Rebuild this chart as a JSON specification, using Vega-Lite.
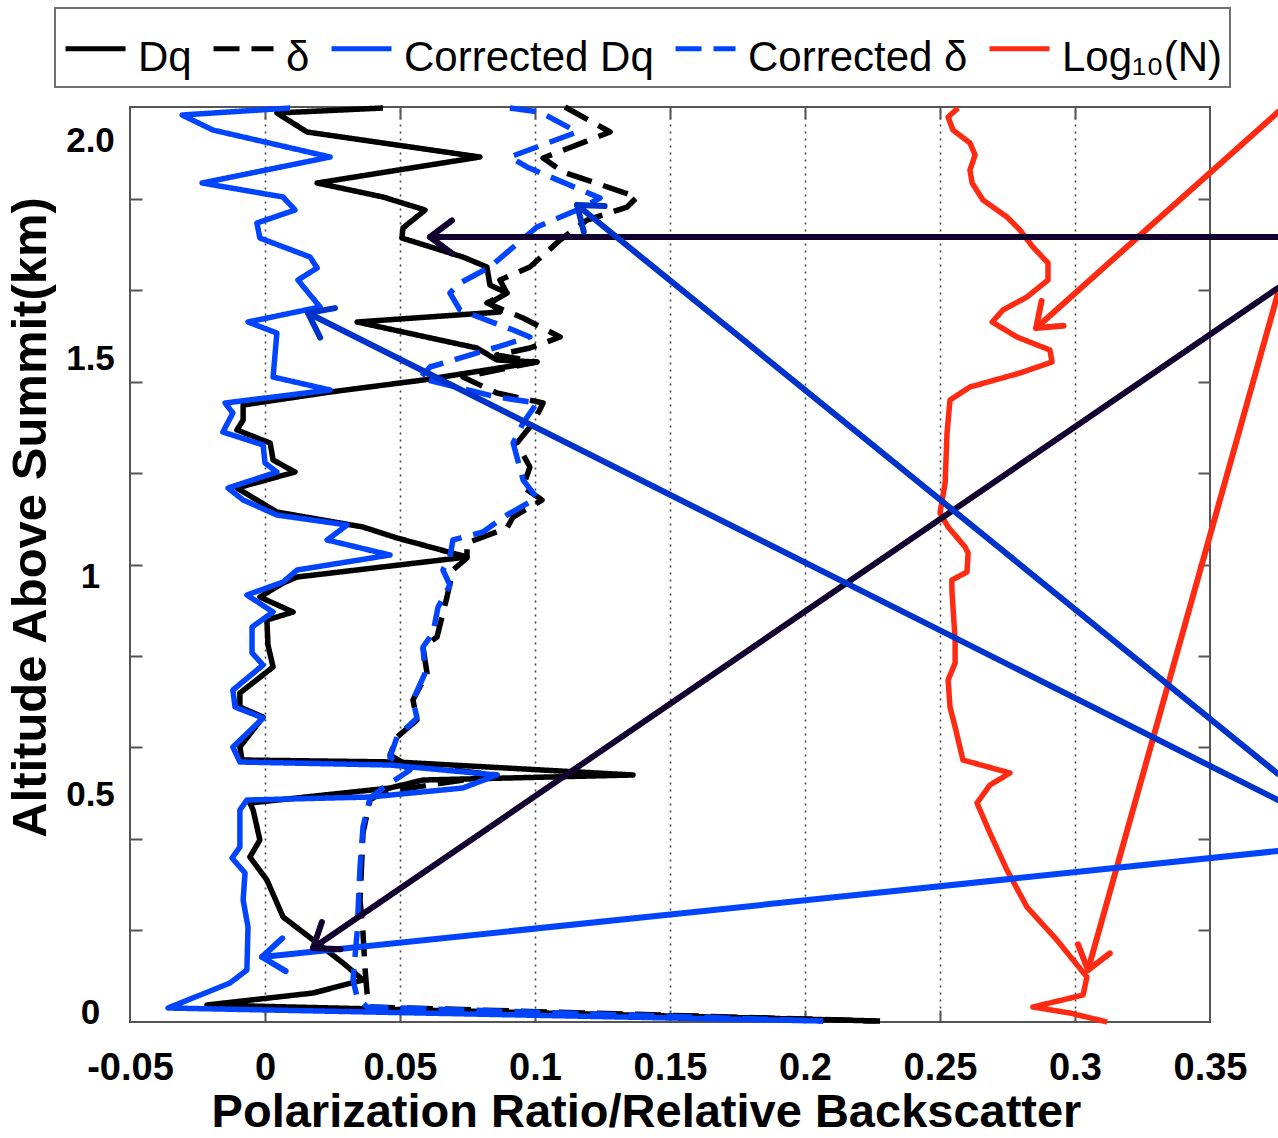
{
  "$schema": "https://vega.github.io/schema/vega-lite/v6.json",
  "width": 1080,
  "height": 915,
  "autosize": {"type": "none"},
  "padding": {"left": 130, "top": 107, "right": 68, "bottom": 116},
  "background": "white",
  "config": {"view": {"stroke": "#555", "strokeWidth": 2}, "font": "Liberation Sans"},
  "datasets": {
    "curves": [
      {"s":"Dq","i":1,"x":0.0437,"y":2.0734},{"s":"Dq","i":2,"x":0.0044,"y":2.0619},{"s":"Dq","i":3,"x":0.0156,"y":2.0183},{"s":"Dq","i":4,"x":0.0796,"y":1.961},{"s":"Dq","i":5,"x":0.0193,"y":1.9014},{"s":"Dq","i":6,"x":0.0437,"y":1.8693},{"s":"Dq","i":7,"x":0.0593,"y":1.8394},{"s":"Dq","i":8,"x":0.0511,"y":1.7982},{"s":"Dq","i":9,"x":0.0507,"y":1.7752},{"s":"Dq","i":10,"x":0.0733,"y":1.7317},{"s":"Dq","i":11,"x":0.0822,"y":1.7087},{"s":"Dq","i":12,"x":0.0833,"y":1.6674},{"s":"Dq","i":13,"x":0.0896,"y":1.6491},{"s":"Dq","i":14,"x":0.0833,"y":1.6261},{"s":"Dq","i":15,"x":0.087,"y":1.6055},{"s":"Dq","i":16,"x":0.0341,"y":1.5826},{"s":"Dq","i":17,"x":0.0785,"y":1.5229},{"s":"Dq","i":18,"x":0.0859,"y":1.4954},{"s":"Dq","i":19,"x":0.1007,"y":1.4908},{"s":"Dq","i":20,"x":0.0585,"y":1.4495},{"s":"Dq","i":21,"x":0.0241,"y":1.422},{"s":"Dq","i":22,"x":-0.0081,"y":1.3922},{"s":"Dq","i":23,"x":-0.0081,"y":1.3578},{"s":"Dq","i":24,"x":-0.0104,"y":1.3349},{"s":"Dq","i":25,"x":0.0019,"y":1.305},{"s":"Dq","i":26,"x":0.003,"y":1.2661},{"s":"Dq","i":27,"x":0.0111,"y":1.2385},{"s":"Dq","i":28,"x":-0.0104,"y":1.2018},{"s":"Dq","i":29,"x":0.0044,"y":1.1468},{"s":"Dq","i":30,"x":0.0363,"y":1.1124},{"s":"Dq","i":31,"x":0.0489,"y":1.0872},{"s":"Dq","i":32,"x":0.0748,"y":1.0436},{"s":"Dq","i":33,"x":0.0119,"y":0.9977},{"s":"Dq","i":34,"x":0.0067,"y":0.9839},{"s":"Dq","i":35,"x":-0.0019,"y":0.9518},{"s":"Dq","i":36,"x":0.0104,"y":0.9174},{"s":"Dq","i":37,"x":0.0007,"y":0.8991},{"s":"Dq","i":38,"x":0.0011,"y":0.8417},{"s":"Dq","i":39,"x":0.003,"y":0.7913},{"s":"Dq","i":40,"x":-0.0093,"y":0.7317},{"s":"Dq","i":41,"x":-0.0093,"y":0.6995},{"s":"Dq","i":42,"x":-0.0007,"y":0.6766},{"s":"Dq","i":43,"x":-0.0093,"y":0.6078},{"s":"Dq","i":44,"x":-0.0085,"y":0.578},{"s":"Dq","i":45,"x":0.0489,"y":0.5734},{"s":"Dq","i":46,"x":0.1363,"y":0.5436},{"s":"Dq","i":47,"x":0.0585,"y":0.5321},{"s":"Dq","i":48,"x":0.0463,"y":0.5138},{"s":"Dq","i":49,"x":-0.0056,"y":0.4794},{"s":"Dq","i":50,"x":-0.0044,"y":0.4633},{"s":"Dq","i":51,"x":-0.0019,"y":0.3945},{"s":"Dq","i":52,"x":-0.0056,"y":0.3555},{"s":"Dq","i":53,"x":0.0007,"y":0.3028},{"s":"Dq","i":54,"x":0.0067,"y":0.2179},{"s":"Dq","i":55,"x":0.0193,"y":0.1583},{"s":"Dq","i":56,"x":0.0289,"y":0.1124},{"s":"Dq","i":57,"x":0.0363,"y":0.0734},{"s":"Dq","i":58,"x":0.0178,"y":0.0436},{"s":"Dq","i":59,"x":-0.0215,"y":0.0161},{"s":"Dq","i":60,"x":0.2278,"y":-0.0206},

      {"s":"δ","i":1,"x":0.1111,"y":2.0757},{"s":"δ","i":2,"x":0.1278,"y":2.0183},{"s":"δ","i":3,"x":0.103,"y":1.9587},{"s":"δ","i":4,"x":0.1104,"y":1.9266},{"s":"δ","i":5,"x":0.1378,"y":1.8693},{"s":"δ","i":6,"x":0.1341,"y":1.8463},{"s":"δ","i":7,"x":0.1193,"y":1.8165},{"s":"δ","i":8,"x":0.1093,"y":1.7706},{"s":"δ","i":9,"x":0.0981,"y":1.7087},{"s":"δ","i":10,"x":0.087,"y":1.6789},{"s":"δ","i":11,"x":0.0896,"y":1.6491},{"s":"δ","i":12,"x":0.0822,"y":1.6261},{"s":"δ","i":13,"x":0.0956,"y":1.5917},{"s":"δ","i":14,"x":0.1093,"y":1.5482},{"s":"δ","i":15,"x":0.0981,"y":1.5229},{"s":"δ","i":16,"x":0.0859,"y":1.5069},{"s":"δ","i":17,"x":0.1007,"y":1.4908},{"s":"δ","i":18,"x":0.0733,"y":1.4564},{"s":"δ","i":19,"x":0.0859,"y":1.4197},{"s":"δ","i":20,"x":0.103,"y":1.3968},{"s":"δ","i":21,"x":0.0993,"y":1.3509},{"s":"δ","i":22,"x":0.0933,"y":1.305},{"s":"δ","i":23,"x":0.0981,"y":1.25},{"s":"δ","i":24,"x":0.0956,"y":1.2041},{"s":"δ","i":25,"x":0.1026,"y":1.1743},{"s":"δ","i":26,"x":0.0919,"y":1.1353},{"s":"δ","i":27,"x":0.0896,"y":1.1101},{"s":"δ","i":28,"x":0.0748,"y":1.0757},{"s":"δ","i":29,"x":0.0748,"y":1.0413},{"s":"δ","i":30,"x":0.0696,"y":1.0138},{"s":"δ","i":31,"x":0.0674,"y":0.9518},{"s":"δ","i":32,"x":0.0637,"y":0.8601},{"s":"δ","i":33,"x":0.0585,"y":0.8372},{"s":"δ","i":34,"x":0.06,"y":0.7775},{"s":"δ","i":35,"x":0.0548,"y":0.7156},{"s":"δ","i":36,"x":0.0563,"y":0.6697},{"s":"δ","i":37,"x":0.0489,"y":0.6307},{"s":"δ","i":38,"x":0.0463,"y":0.5894},{"s":"δ","i":39,"x":0.0526,"y":0.5665},{"s":"δ","i":40,"x":0.0859,"y":0.5436},{"s":"δ","i":41,"x":0.0437,"y":0.5046},{"s":"δ","i":42,"x":0.0389,"y":0.4862},{"s":"δ","i":43,"x":0.0363,"y":0.4106},{"s":"δ","i":44,"x":0.0352,"y":0.2569},{"s":"δ","i":45,"x":0.0363,"y":0.1812},{"s":"δ","i":46,"x":0.037,"y":0.1032},{"s":"δ","i":47,"x":0.0378,"y":0.0436},{"s":"δ","i":48,"x":0.0389,"y":0.0115},{"s":"δ","i":49,"x":0.2263,"y":-0.0206},

      {"s":"Corrected Dq","i":1,"x":0.0093,"y":2.0734},{"s":"Corrected Dq","i":2,"x":-0.0307,"y":2.0573},{"s":"Corrected Dq","i":3,"x":-0.0193,"y":2.0229},{"s":"Corrected Dq","i":4,"x":0.0241,"y":1.961},{"s":"Corrected Dq","i":5,"x":-0.0233,"y":1.9014},{"s":"Corrected Dq","i":6,"x":0.0067,"y":1.8693},{"s":"Corrected Dq","i":7,"x":0.0111,"y":1.8394},{"s":"Corrected Dq","i":8,"x":-0.003,"y":1.8096},{"s":"Corrected Dq","i":9,"x":-0.0019,"y":1.7752},{"s":"Corrected Dq","i":10,"x":0.0167,"y":1.7317},{"s":"Corrected Dq","i":11,"x":0.0193,"y":1.7064},{"s":"Corrected Dq","i":12,"x":0.0122,"y":1.6789},{"s":"Corrected Dq","i":13,"x":0.0204,"y":1.617},{"s":"Corrected Dq","i":14,"x":-0.0063,"y":1.5826},{"s":"Corrected Dq","i":15,"x":0.0044,"y":1.5573},{"s":"Corrected Dq","i":16,"x":0.003,"y":1.4564},{"s":"Corrected Dq","i":17,"x":0.0241,"y":1.4266},{"s":"Corrected Dq","i":18,"x":-0.0148,"y":1.3968},{"s":"Corrected Dq","i":19,"x":-0.0119,"y":1.3739},{"s":"Corrected Dq","i":20,"x":-0.0156,"y":1.3303},{"s":"Corrected Dq","i":21,"x":-0.0007,"y":1.3005},{"s":"Corrected Dq","i":22,"x":0,"y":1.2592},{"s":"Corrected Dq","i":23,"x":0.0044,"y":1.2385},{"s":"Corrected Dq","i":24,"x":-0.0137,"y":1.2018},{"s":"Corrected Dq","i":25,"x":-0.0081,"y":1.1743},{"s":"Corrected Dq","i":26,"x":0.0044,"y":1.1399},{"s":"Corrected Dq","i":27,"x":0.0304,"y":1.117},{"s":"Corrected Dq","i":28,"x":0.023,"y":1.0826},{"s":"Corrected Dq","i":29,"x":0.0463,"y":1.0482},{"s":"Corrected Dq","i":30,"x":0.0119,"y":1.0138},{"s":"Corrected Dq","i":31,"x":0.0067,"y":0.9862},{"s":"Corrected Dq","i":32,"x":-0.0067,"y":0.9564},{"s":"Corrected Dq","i":33,"x":0.003,"y":0.9174},{"s":"Corrected Dq","i":34,"x":-0.0048,"y":0.883},{"s":"Corrected Dq","i":35,"x":-0.0048,"y":0.8234},{"s":"Corrected Dq","i":36,"x":-0.0007,"y":0.7959},{"s":"Corrected Dq","i":37,"x":-0.0119,"y":0.7385},{"s":"Corrected Dq","i":38,"x":-0.0111,"y":0.6995},{"s":"Corrected Dq","i":39,"x":-0.0007,"y":0.6743},{"s":"Corrected Dq","i":40,"x":-0.0119,"y":0.6078},{"s":"Corrected Dq","i":41,"x":-0.0093,"y":0.5734},{"s":"Corrected Dq","i":42,"x":0.0463,"y":0.5665},{"s":"Corrected Dq","i":43,"x":0.0859,"y":0.5436},{"s":"Corrected Dq","i":44,"x":0.0733,"y":0.5138},{"s":"Corrected Dq","i":45,"x":0.0389,"y":0.4931},{"s":"Corrected Dq","i":46,"x":-0.0067,"y":0.4862},{"s":"Corrected Dq","i":47,"x":-0.0093,"y":0.4633},{"s":"Corrected Dq","i":48,"x":-0.0093,"y":0.3784},{"s":"Corrected Dq","i":49,"x":-0.0122,"y":0.3532},{"s":"Corrected Dq","i":50,"x":-0.0074,"y":0.3188},{"s":"Corrected Dq","i":51,"x":-0.0081,"y":0.2569},{"s":"Corrected Dq","i":52,"x":-0.0063,"y":0.195},{"s":"Corrected Dq","i":53,"x":-0.0067,"y":0.0963},{"s":"Corrected Dq","i":54,"x":-0.013,"y":0.0665},{"s":"Corrected Dq","i":55,"x":-0.0359,"y":0.0092},{"s":"Corrected Dq","i":56,"x":0.2067,"y":-0.0206},

      {"s":"Corrected δ","i":1,"x":0.0907,"y":2.0734},{"s":"Corrected δ","i":2,"x":0.1019,"y":2.0642},{"s":"Corrected δ","i":3,"x":0.1156,"y":2.0183},{"s":"Corrected δ","i":4,"x":0.0907,"y":1.961},{"s":"Corrected δ","i":5,"x":0.097,"y":1.9381},{"s":"Corrected δ","i":6,"x":0.1241,"y":1.867},{"s":"Corrected δ","i":7,"x":0.1156,"y":1.8394},{"s":"Corrected δ","i":8,"x":0.1007,"y":1.8005},{"s":"Corrected δ","i":9,"x":0.0833,"y":1.7087},{"s":"Corrected δ","i":10,"x":0.0722,"y":1.672},{"s":"Corrected δ","i":11,"x":0.0685,"y":1.6491},{"s":"Corrected δ","i":12,"x":0.0722,"y":1.6101},{"s":"Corrected δ","i":13,"x":0.0919,"y":1.5642},{"s":"Corrected δ","i":14,"x":0.0981,"y":1.5482},{"s":"Corrected δ","i":15,"x":0.0859,"y":1.5252},{"s":"Corrected δ","i":16,"x":0.0611,"y":1.4794},{"s":"Corrected δ","i":17,"x":0.0574,"y":1.4541},{"s":"Corrected δ","i":18,"x":0.0859,"y":1.4106},{"s":"Corrected δ","i":19,"x":0.1007,"y":1.3968},{"s":"Corrected δ","i":20,"x":0.0956,"y":1.3509},{"s":"Corrected δ","i":21,"x":0.0919,"y":1.305},{"s":"Corrected δ","i":22,"x":0.0956,"y":1.2202},{"s":"Corrected δ","i":23,"x":0.1007,"y":1.1789},{"s":"Corrected δ","i":24,"x":0.0896,"y":1.1399},{"s":"Corrected δ","i":25,"x":0.0807,"y":1.1009},{"s":"Corrected δ","i":26,"x":0.0696,"y":1.0826},{"s":"Corrected δ","i":27,"x":0.0685,"y":1.0436},{"s":"Corrected δ","i":28,"x":0.0659,"y":1.0138},{"s":"Corrected δ","i":29,"x":0.0685,"y":0.9794},{"s":"Corrected δ","i":30,"x":0.0641,"y":0.9289},{"s":"Corrected δ","i":31,"x":0.0622,"y":0.8693},{"s":"Corrected δ","i":32,"x":0.0585,"y":0.8372},{"s":"Corrected δ","i":33,"x":0.0593,"y":0.7775},{"s":"Corrected δ","i":34,"x":0.0548,"y":0.7156},{"s":"Corrected δ","i":35,"x":0.0563,"y":0.6743},{"s":"Corrected δ","i":36,"x":0.0489,"y":0.6307},{"s":"Corrected δ","i":37,"x":0.0463,"y":0.5849},{"s":"Corrected δ","i":38,"x":0.0537,"y":0.555},{"s":"Corrected δ","i":39,"x":0.0437,"y":0.5138},{"s":"Corrected δ","i":40,"x":0.0389,"y":0.4908},{"s":"Corrected δ","i":41,"x":0.0363,"y":0.4243},{"s":"Corrected δ","i":42,"x":0.0352,"y":0.3326},{"s":"Corrected δ","i":43,"x":0.0341,"y":0.1812},{"s":"Corrected δ","i":44,"x":0.0326,"y":0.0734},{"s":"Corrected δ","i":45,"x":0.0341,"y":0.0344},{"s":"Corrected δ","i":46,"x":0.0378,"y":0.0115},{"s":"Corrected δ","i":47,"x":0.2067,"y":-0.0206},

      {"s":"Log₁₀(N)","i":1,"x":0.2567,"y":2.0734},{"s":"Log₁₀(N)","i":2,"x":0.253,"y":2.0528},{"s":"Log₁₀(N)","i":3,"x":0.2548,"y":2.0229},{"s":"Log₁₀(N)","i":4,"x":0.2611,"y":1.9931},{"s":"Log₁₀(N)","i":5,"x":0.263,"y":1.9656},{"s":"Log₁₀(N)","i":6,"x":0.2611,"y":1.9312},{"s":"Log₁₀(N)","i":7,"x":0.2619,"y":1.9014},{"s":"Log₁₀(N)","i":8,"x":0.2659,"y":1.8624},{"s":"Log₁₀(N)","i":9,"x":0.2748,"y":1.8234},{"s":"Log₁₀(N)","i":10,"x":0.2796,"y":1.7936},{"s":"Log₁₀(N)","i":11,"x":0.2844,"y":1.7546},{"s":"Log₁₀(N)","i":12,"x":0.29,"y":1.7179},{"s":"Log₁₀(N)","i":13,"x":0.29,"y":1.6789},{"s":"Log₁₀(N)","i":14,"x":0.2822,"y":1.6399},{"s":"Log₁₀(N)","i":15,"x":0.2733,"y":1.6101},{"s":"Log₁₀(N)","i":16,"x":0.2693,"y":1.5826},{"s":"Log₁₀(N)","i":17,"x":0.2785,"y":1.5482},{"s":"Log₁₀(N)","i":18,"x":0.2907,"y":1.5183},{"s":"Log₁₀(N)","i":19,"x":0.2915,"y":1.4908},{"s":"Log₁₀(N)","i":20,"x":0.2796,"y":1.4656},{"s":"Log₁₀(N)","i":21,"x":0.2611,"y":1.4335},{"s":"Log₁₀(N)","i":22,"x":0.2537,"y":1.4037},{"s":"Log₁₀(N)","i":23,"x":0.2526,"y":1.328},{"s":"Log₁₀(N)","i":24,"x":0.2519,"y":1.2133},{"s":"Log₁₀(N)","i":25,"x":0.25,"y":1.1445},{"s":"Log₁₀(N)","i":26,"x":0.253,"y":1.1124},{"s":"Log₁₀(N)","i":27,"x":0.2593,"y":1.0665},{"s":"Log₁₀(N)","i":28,"x":0.2604,"y":1.0528},{"s":"Log₁₀(N)","i":29,"x":0.26,"y":1.0092},{"s":"Log₁₀(N)","i":30,"x":0.2544,"y":0.9908},{"s":"Log₁₀(N)","i":31,"x":0.2544,"y":0.9679},{"s":"Log₁₀(N)","i":32,"x":0.2556,"y":0.8532},{"s":"Log₁₀(N)","i":33,"x":0.2556,"y":0.8005},{"s":"Log₁₀(N)","i":34,"x":0.253,"y":0.7615},{"s":"Log₁₀(N)","i":35,"x":0.2537,"y":0.6995},{"s":"Log₁₀(N)","i":36,"x":0.2556,"y":0.6537},{"s":"Log₁₀(N)","i":37,"x":0.2585,"y":0.578},{"s":"Log₁₀(N)","i":38,"x":0.2759,"y":0.5482},{"s":"Log₁₀(N)","i":39,"x":0.2685,"y":0.5206},{"s":"Log₁₀(N)","i":40,"x":0.2637,"y":0.4794},{"s":"Log₁₀(N)","i":41,"x":0.2685,"y":0.4106},{"s":"Log₁₀(N)","i":42,"x":0.2748,"y":0.3257},{"s":"Log₁₀(N)","i":43,"x":0.2822,"y":0.2408},{"s":"Log₁₀(N)","i":44,"x":0.2933,"y":0.1651},{"s":"Log₁₀(N)","i":45,"x":0.3044,"y":0.0803},{"s":"Log₁₀(N)","i":46,"x":0.303,"y":0.039},{"s":"Log₁₀(N)","i":47,"x":0.2844,"y":0.0115},{"s":"Log₁₀(N)","i":48,"x":0.2981,"y":-0.0023},{"s":"Log₁₀(N)","i":49,"x":0.3119,"y":-0.0229}
    ],
    "arrows": [
      {"g":"N note","x0":0.3752,"y0":2.0642,"x1":0.2856,"y1":1.5688},
      {"g":"N note","x0":0.3752,"y0":1.6491,"x1":0.3048,"y1":0.0963},
      {"g":"Dq note","x0":0.3752,"y0":1.7775,"x1":0.0611,"y1":1.7775},
      {"g":"Dq note","x0":0.3752,"y0":1.6606,"x1":0.0178,"y1":0.1468},
      {"g":"Corrected note","x0":0.3752,"y0":0.5459,"x1":0.1156,"y1":1.8509},
      {"g":"Corrected note","x0":0.3752,"y0":0.4862,"x1":0.0159,"y1":1.6032},
      {"g":"Corrected Dq note","x0":0.3752,"y0":0.3693,"x1":-0.0011,"y1":0.1261}
    ]
  },
  "resolve": {"axis": {"x": "independent", "y": "independent"}},
  "layer": [
    {
      "data": {"name": "curves"},
      "mark": {"type": "line", "strokeWidth": 5.5, "strokeJoin": "round"},
      "encoding": {
        "x": {
          "field": "x", "type": "quantitative",
          "scale": {"domain": [-0.05, 0.35], "nice": false, "zero": false},
          "axis": {
            "orient": "bottom",
            "values": [-0.05, 0, 0.05, 0.1, 0.15, 0.2, 0.25, 0.3, 0.35],
            "labelExpr": "datum.value < 0 ? '-0.05' : format(datum.value, '~g')",
            "ticks": false, "domain": false, "grid": false,
            "labelFont": "Liberation Sans", "labelFontWeight": "bold", "labelFontSize": 38,
            "labelColor": "black", "labelPadding": 27, "labelFlush": false, "labelOverlap": false,
            "title": "Polarization Ratio/Relative Backscatter",
            "titleFont": "Liberation Sans", "titleFontSize": 47, "titleFontWeight": "bold",
            "titleColor": "black", "titlePadding": 2, "titleX": 516
          }
        },
        "y": {
          "field": "y", "type": "quantitative",
          "scale": {"domain": [-0.0229, 2.0757], "nice": false, "zero": false},
          "axis": {
            "orient": "left",
            "values": [0, 0.5, 1, 1.5, 2],
            "labelExpr": "datum.value == 2 ? '2.0' : format(datum.value, '~g')",
            "ticks": false, "domain": false, "grid": false,
            "labelAlign": "center", "labelBaseline": "middle", "labelPadding": 40,
            "labelFont": "Liberation Sans", "labelFontSize": 35, "labelFontWeight": "bold",
            "labelColor": "black", "labelFlush": false, "labelOverlap": false,
            "title": "Altitude Above Summit(km)",
            "titleFont": "Liberation Sans", "titleFontSize": 49, "titleFontWeight": "bold",
            "titleColor": "black", "titlePadding": 10, "titleY": 410
          }
        },
        "color": {
          "field": "s", "type": "nominal",
          "scale": {
            "domain": ["Dq", "δ", "Corrected Dq", "Corrected δ", "Log₁₀(N)"],
            "range": ["#000000", "#000000", "#0044ff", "#0044ff", "#ff2a12"]
          },
          "legend": {
            "orient": "none", "legendX": -75, "legendY": -99, "direction": "horizontal",
            "title": null, "symbolType": "stroke", "symbolSize": 3600, "symbolStrokeWidth": 5,
            "labelFont": "Liberation Sans", "labelFontSize": 42, "labelColor": "black",
            "labelOffset": 10, "labelLimit": 500, "columnPadding": 11,
            "strokeColor": "#707070", "padding": 8, "fillColor": "white",
            "encode": {
              "legend": {"update": {"strokeWidth": {"value": 2}}},
              "labels": {"update": {
                "dy": {"value": 9},
                "text": {"signal": "datum.label == 'Log₁₀(N)' ? 'Log₁₀(N)\u00a0\u00a0\u00a0\u00a0\u00a0\u00a0' : datum.label"}
              }}
            }
          }
        },
        "strokeDash": {
          "field": "s", "type": "nominal",
          "scale": {
            "domain": ["Dq", "δ", "Corrected Dq", "Corrected δ", "Log₁₀(N)"],
            "range": [[1, 0], [26, 12], [1, 0], [26, 12], [1, 0]]
          }
        },
        "order": {"field": "i", "type": "quantitative"}
      }
    },
    {
      "data": {"name": "arrows"},
      "mark": {"type": "rule", "strokeWidth": 6, "strokeCap": "round"},
      "encoding": {
        "x": {
          "field": "x0", "type": "quantitative",
          "scale": {"domain": [-0.05, 0.35], "nice": false, "zero": false},
          "axis": {
            "orient": "top", "values": [0, 0.05, 0.1, 0.15, 0.2, 0.25, 0.3],
            "labels": false, "domain": false, "ticks": true, "tickSize": -12,
            "tickColor": "#555", "tickWidth": 2,
            "grid": true, "gridColor": "#444", "gridWidth": 1.6, "gridDash": [2, 5], "title": null
          }
        },
        "y": {
          "field": "y0", "type": "quantitative",
          "scale": {"domain": [-0.0229, 2.0757], "nice": false, "zero": false},
          "axis": {
            "orient": "left", "values": [0.187, 0.3968, 0.6067, 0.8165, 1.0264, 1.2363, 1.4461, 1.656, 1.8658],
            "labels": false, "domain": false, "ticks": true, "tickSize": -12,
            "tickColor": "#555", "tickWidth": 2, "grid": false, "title": null
          }
        },
        "x2": {"field": "x1"},
        "y2": {"field": "y1"},
        "stroke": {
          "field": "g", "type": "nominal",
          "scale": {"domain": ["Dq note", "Corrected note", "Corrected Dq note", "N note"], "range": ["#12002e", "#0033cc", "#0044ff", "#ff2a12"]},
          "legend": null
        }
      }
    },
    {
      "data": {"name": "arrows"},
      "transform": [
        {"calculate": "atan2(-(datum.y1 - datum.y0) * 436, (datum.x1 - datum.x0) * 2700) * 180 / PI", "as": "ang"}
      ],
      "mark": {"type": "point", "shape": "M-1,-0.75L0,0L-1,0.75", "filled": false, "strokeWidth": 6, "size": 1936, "strokeCap": "round", "strokeJoin": "round", "opacity": 1},
      "encoding": {
        "x": {
          "field": "x1", "type": "quantitative",
          "scale": {"domain": [-0.05, 0.35], "nice": false, "zero": false},
          "axis": {
            "orient": "bottom", "values": [0, 0.05, 0.1, 0.15, 0.2, 0.25, 0.3],
            "labels": false, "domain": false, "ticks": true, "tickSize": -12,
            "tickColor": "#555", "tickWidth": 2, "grid": false, "title": null
          }
        },
        "y": {
          "field": "y1", "type": "quantitative",
          "scale": {"domain": [-0.0229, 2.0757], "nice": false, "zero": false},
          "axis": {
            "orient": "right", "values": [0.187, 0.3968, 0.6067, 0.8165, 1.0264, 1.2363, 1.4461, 1.656, 1.8658],
            "labels": false, "domain": false, "ticks": true, "tickSize": -12,
            "tickColor": "#555", "tickWidth": 2, "grid": false, "title": null
          }
        },
        "angle": {"field": "ang", "type": "quantitative", "scale": null},
        "stroke": {
          "field": "g", "type": "nominal",
          "scale": {"domain": ["Dq note", "Corrected note", "Corrected Dq note", "N note"], "range": ["#12002e", "#0033cc", "#0044ff", "#ff2a12"]},
          "legend": null
        }
      }
    }
  ]
}
